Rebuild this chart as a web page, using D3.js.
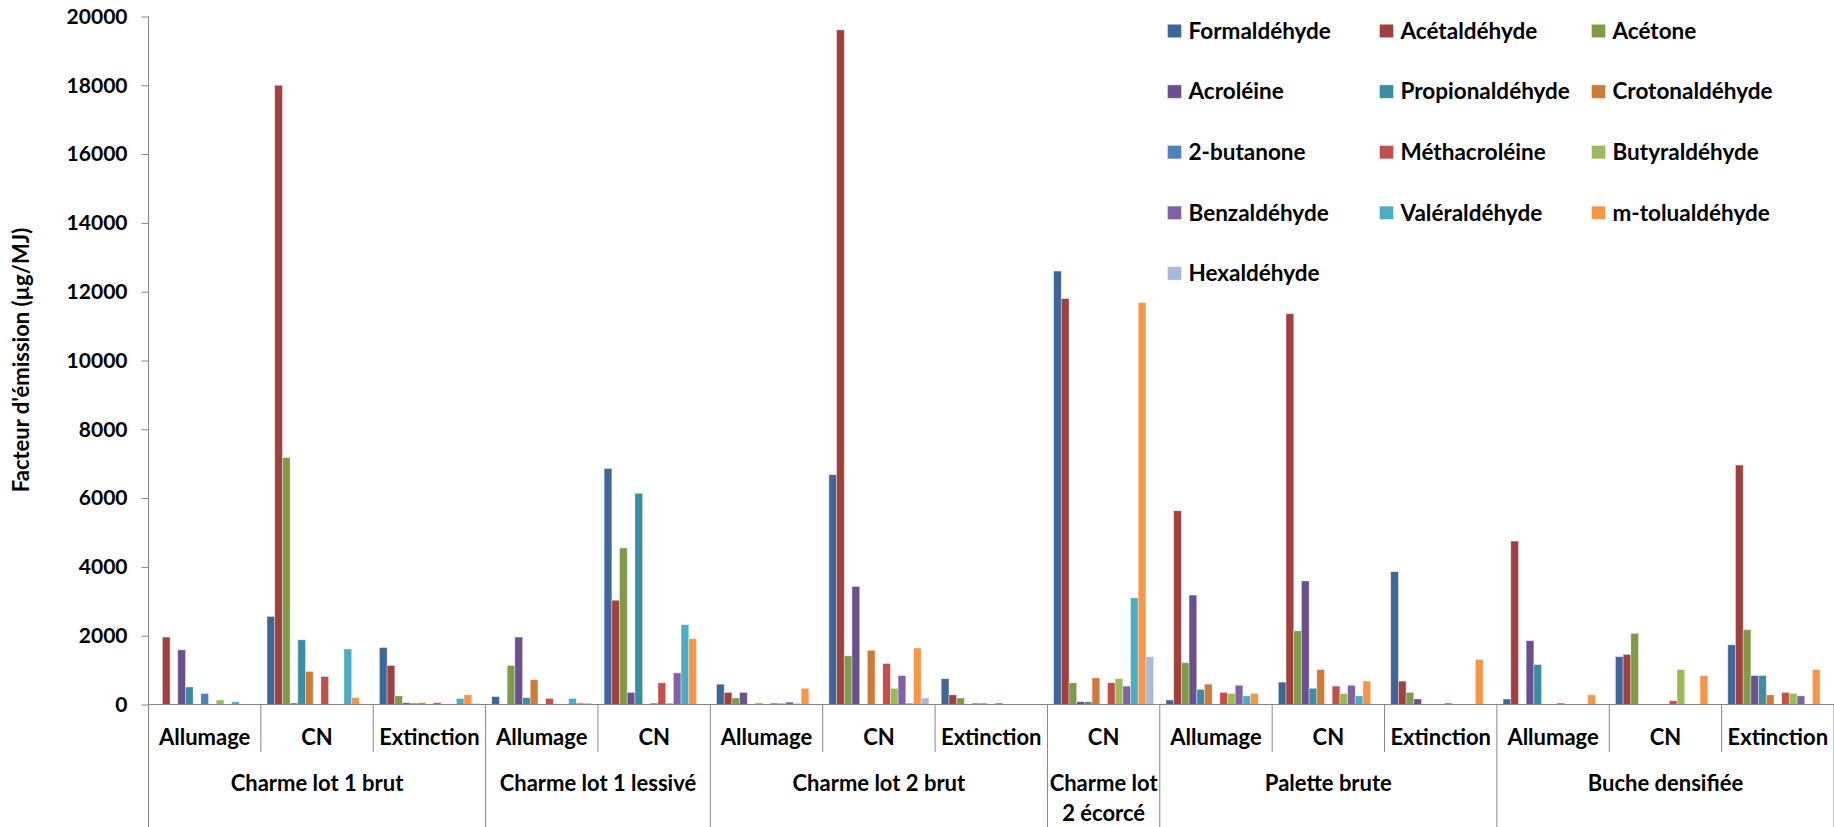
<!DOCTYPE html>
<html>
<head>
<meta charset="utf-8">
<script src="https://cdn.jsdelivr.net/npm/d3@7"></script>
<style>
  html, body { margin: 0; padding: 0; background: #fff; }
  svg { display: block; }
  text { font-family: Lato, "Open Sans", sans-serif; font-weight: bold; fill: #000; }
</style>
</head>
<body>
<svg id="chart" width="1834" height="827"></svg>
<script>
// ---- Data ----
const subCategories = ["Allumage", "CN", "Extinction", "Allumage", "CN", "Allumage", "CN", "Extinction", "CN", "Allumage", "CN", "Extinction", "Allumage", "CN", "Extinction"];
const groupNames = ["Charme lot 1 brut", "Charme lot 1 lessivé", "Charme lot 2 brut", "Charme lot 2 écorcé", "Palette brute", "Buche densifiée"];
const groupSizes = [3, 2, 3, 1, 3, 3];
const groupLabelLines = [["Charme lot 1 brut"], ["Charme lot 1 lessivé"], ["Charme lot 2 brut"], ["Charme lot", "2 écorcé"], ["Palette brute"], ["Buche densifiée"]];

const seriesNames = ["Formaldéhyde", "Acétaldéhyde", "Acétone", "Acroléine", "Propionaldéhyde", "Crotonaldéhyde", "2-butanone", "Méthacroléine", "Butyraldéhyde", "Benzaldéhyde", "Valéraldéhyde", "m-tolualdéhyde", "Hexaldéhyde"];
const seriesColors = ["#3E6699", "#A0403F", "#7F9A48", "#6A518B", "#3C8DA3", "#CD7C37", "#4F81BD", "#C0504D", "#9BBB59", "#8064A2", "#4BACC6", "#F79646", "#A9B9D8"];

const formaldehyde    = [0, 2560, 1655, 230, 6860, 590, 6680, 750, 12600, 130, 650, 3860, 160, 1390, 1735];
const acetaldehyde    = [1960, 18000, 1135, 0, 3030, 350, 19610, 280, 11800, 5630, 11360, 680, 4750, 1455, 6960];
const acetone         = [0, 7180, 250, 1135, 4550, 190, 1415, 190, 630, 1215, 2140, 350, 0, 2070, 2175];
const acroleine       = [1590, 40, 50, 1960, 350, 350, 3430, 0, 80, 3180, 3590, 160, 1855, 0, 840];
const propionaldehyde = [510, 1880, 40, 200, 6140, 0, 0, 40, 80, 440, 470, 0, 1160, 0, 840];
const crotonaldehyde  = [0, 960, 50, 720, 0, 40, 1575, 40, 775, 590, 1015, 0, 0, 0, 280];
const butanone        = [320, 0, 0, 0, 40, 0, 0, 0, 0, 0, 0, 0, 0, 0, 0];
const methacroleine   = [0, 815, 50, 175, 630, 40, 1190, 40, 630, 350, 535, 40, 40, 110, 350];
const butyraldehyde   = [130, 0, 0, 0, 40, 40, 470, 0, 750, 320, 320, 0, 0, 1015, 320];
const benzaldehyde    = [0, 0, 0, 0, 920, 70, 840, 0, 535, 560, 560, 0, 0, 0, 250];
const valeraldehyde   = [80, 1615, 175, 175, 2320, 30, 40, 0, 3100, 250, 250, 0, 0, 0, 0];
const mtolualdehyde   = [0, 200, 280, 50, 1910, 470, 1640, 0, 11680, 320, 680, 1310, 280, 840, 1015];
const hexaldehyde     = [0, 0, 30, 40, 0, 0, 190, 0, 1390, 0, 0, 0, 0, 0, 0];

const seriesValues = [formaldehyde, acetaldehyde, acetone, acroleine, propionaldehyde, crotonaldehyde, butanone, methacroleine, butyraldehyde, benzaldehyde, valeraldehyde, mtolualdehyde, hexaldehyde];
const yTicks = [0, 2000, 4000, 6000, 8000, 10000, 12000, 14000, 16000, 18000, 20000];

// ---- Layout ----
const svg = d3.select("#chart");
const plotLeft = 148.5, plotRight = 1834, zeroY = 704.5, topY = 16.5;
const axisColor = "#868686";

const catIdx = d3.range(subCategories.length);
const x0 = d3.scaleBand().domain(catIdx).range([plotLeft, plotRight]).padding(0);
const catW = x0.bandwidth();
const inset = catW * 0.055;
const x1 = d3.scaleBand().domain(d3.range(seriesNames.length)).range([inset, catW - inset]).padding(0);
const y = d3.scaleLinear().domain([0, 20000]).range([zeroY, topY]);

// Bars
const barData = [];
seriesValues.forEach((vals, s) => vals.forEach((v, c) => barData.push({s, c, v})));
svg.append("g").selectAll("rect").data(barData.filter(d => d.v > 0)).join("rect")
  .attr("x", d => x0(d.c) + x1(d.s))
  .attr("y", d => y(d.v))
  .attr("width", x1.bandwidth())
  .attr("height", d => zeroY - y(d.v))
  .attr("fill", d => seriesColors[d.s])
  .attr("stroke", "rgba(255,255,255,0.45)")
  .attr("stroke-width", 0.8);

// Y axis
const yAxis = d3.axisLeft(y).tickValues(yTicks).tickSize(7).tickPadding(14).tickFormat(d3.format("d"));
const gy = svg.append("g").attr("transform", `translate(${plotLeft},0)`).call(yAxis);
gy.select(".domain").remove();
gy.selectAll(".tick line").attr("stroke", axisColor);
gy.selectAll(".tick text").style("font-family", "Lato, sans-serif").style("font-weight", "bold").style("font-size", "21px").attr("fill", "#000");
svg.append("line").attr("x1", plotLeft).attr("x2", plotLeft).attr("y1", topY).attr("y2", 827).attr("stroke", axisColor);

// Zero line
svg.append("line").attr("x1", plotLeft).attr("x2", plotRight).attr("y1", zeroY).attr("y2", zeroY).attr("stroke", axisColor);

// Category separators
const groupEnds = [];
let acc = 0;
groupSizes.forEach(n => { acc += n; groupEnds.push(acc); });
for (let i = 1; i <= subCategories.length; i++) {
  const xs = x0(i - 1) + catW;
  const isGroup = groupEnds.includes(i);
  svg.append("line").attr("x1", xs).attr("x2", xs).attr("y1", zeroY).attr("y2", isGroup ? 827 : 752).attr("stroke", axisColor);
}

// Sub-category labels
svg.append("g").selectAll("text").data(catIdx).join("text")
  .attr("x", c => x0(c) + catW / 2)
  .attr("y", 737).attr("dy", "0.35em")
  .attr("text-anchor", "middle")
  .style("font-size", "22px")
  .text(c => subCategories[c]);

// Group labels
let start = 0;
groupSizes.forEach((n, g) => {
  const cx = x0(start) + (n * catW) / 2;
  const lines = groupLabelLines[g];
  lines.forEach((ln, k) => {
    svg.append("text").attr("x", cx).attr("y", 783 + k * 30).attr("dy", "0.35em")
      .attr("text-anchor", "middle").style("font-size", "22px").text(ln);
  });
  start += n;
});

// Y title
svg.append("text")
  .attr("transform", "translate(21,360) rotate(-90)")
  .attr("text-anchor", "middle").attr("dy", "0.35em")
  .style("font-size", "22px")
  .text("Facteur d'émission (µg/MJ)");

// Legend
const legX = [1167.5, 1379.5, 1591.5];
const legY0 = 31, legDY = 60.6;
const leg = svg.append("g").selectAll("g").data(seriesNames).join("g")
  .attr("transform", (d, i) => `translate(${legX[i % 3]},${legY0 + Math.floor(i / 3) * legDY})`);
leg.append("rect").attr("x", 0).attr("y", -6.7).attr("width", 14).attr("height", 13.4)
  .attr("fill", (d, i) => seriesColors[i]).attr("stroke", "rgba(255,255,255,0.45)").attr("stroke-width", 0.8);
leg.append("text").attr("x", 21).attr("y", 0).attr("dy", "0.35em").style("font-size", "22.5px").text(d => d);
</script>
</body>
</html>
